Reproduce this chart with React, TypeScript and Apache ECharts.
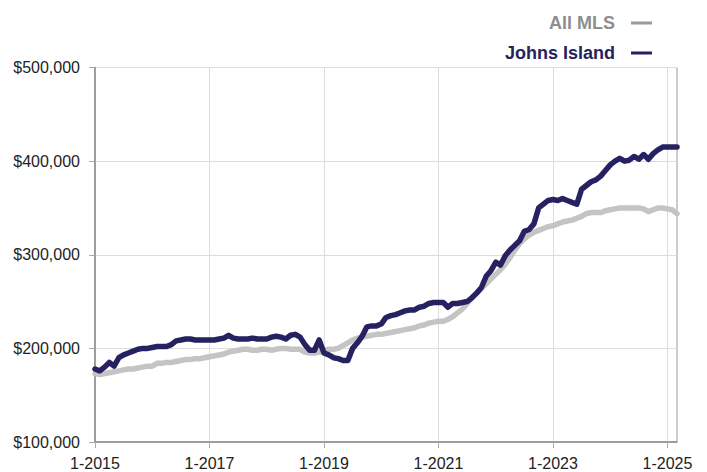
import React, { useEffect, useRef } from "react";
import * as echarts from "echarts";

const START_YEAR = 2015;
const MONTH_COUNT = 123;

const seriesNames = ["All MLS", "Johns Island"];

// Median price, thousands of dollars, monthly Jan 2015 - Mar 2025
const allMls = [
  173, 172, 173, 174, 175, 176, 177, 178, 178, 179, 180, 181,
  181, 184, 184, 185, 185, 186, 187, 188, 188, 189, 189, 190,
  191, 192, 193, 194, 196, 197, 198, 199, 199, 198, 198, 199,
  199, 198, 199, 200, 200, 199, 199, 199, 196, 195, 195, 196,
  198, 199, 199, 200, 203, 206, 209, 211, 212, 213, 214, 215,
  215, 216, 217, 218, 219, 220, 221, 222, 224, 225, 227, 228,
  229, 229, 231, 234, 238, 242, 248, 254, 259, 264, 269, 274,
  279, 284, 290, 297, 305, 312, 317, 321, 324, 326, 328, 330,
  331, 333, 335, 336, 337, 339, 341, 344, 345, 345, 345, 347,
  348, 349, 350, 350, 350, 350, 350, 349, 346, 348, 350, 350,
  349, 348, 344,
];

const johnsIsland = [
  178, 176, 180, 185, 181, 190, 193, 195, 197, 199, 200, 200,
  201, 202, 202, 202, 204, 208, 209, 210, 210, 209, 209, 209,
  209, 209, 210, 211, 214, 211, 210, 210, 210, 211, 210, 210,
  210, 212, 213, 212, 210, 214, 215, 212, 204, 198, 198, 209,
  195, 193, 190, 189, 187, 187, 200, 206, 213, 223, 224, 224,
  226, 233, 235, 236, 238, 240, 241, 241, 244, 245, 248, 249,
  249, 249, 244, 248, 248, 249, 250, 254, 259, 265, 277, 283,
  292, 289, 299, 305, 310, 315, 325, 327, 333, 350, 354, 358,
  359, 358, 360, 358, 356, 354, 370, 374, 378, 380, 384, 390,
  396, 400, 403, 400, 401, 405, 402, 407, 402, 408, 412, 415,
  415, 415, 415,
];

const yTicks = [100000, 200000, 300000, 400000, 500000];

const categories: string[] = [];
for (let i = 0; i < MONTH_COUNT; i++) {
  categories.push(`${(i % 12) + 1}-${START_YEAR + Math.floor(i / 12)}`);
}

const FONT = "'Liberation Sans', Arial, Helvetica, sans-serif";

export default function App() {
  const ref = useRef<HTMLDivElement>(null);
  useEffect(() => {
    if (!ref.current) return;
    const chart = echarts.init(ref.current, null, { renderer: "svg" });
    chart.setOption({
      animation: false,
      backgroundColor: "#ffffff",
      grid: {
        left: 95,
        right: 30,
        top: 67.5,
        bottom: 30,
        show: true,
        borderColor: "#9a9a9a",
        borderWidth: 1,
        containLabel: false,
        outerBoundsMode: "none",
      },
      legend: {
        orient: "vertical",
        right: 55,
        top: 14,
        padding: 0,
        align: "right",
        itemWidth: 21,
        itemHeight: 3,
        itemGap: 12,
        icon: "rect",
        selectedMode: false,
        data: [
          {
            name: seriesNames[0],
            itemStyle: { color: "#9a9a9a" },
            textStyle: { color: "#8e8e8e" },
          },
          {
            name: seriesNames[1],
            itemStyle: { color: "#25235e" },
            textStyle: { color: "#25235e" },
          },
        ],
        textStyle: {
          fontFamily: FONT,
          fontWeight: "bold",
          fontSize: 18,
          padding: [0, 11, 0, 0],
        },
      },
      xAxis: {
        type: "category",
        data: categories,
        boundaryGap: false,
        axisLine: { lineStyle: { color: "#8a8a8a", width: 1.5 } },
        axisTick: { show: true, interval: 23, length: 6, lineStyle: { color: "#aaaaaa" } },
        axisLabel: {
          interval: 23,
          margin: 13,
          fontFamily: FONT,
          fontSize: 16,
          color: "#222222",
        },
        splitLine: { show: true, interval: 23, lineStyle: { color: "#dddddd", width: 1 } },
      },
      yAxis: {
        type: "value",
        min: yTicks[0],
        max: yTicks[yTicks.length - 1],
        interval: yTicks[1] - yTicks[0],
        axisLine: { show: true, lineStyle: { color: "#8a8a8a", width: 1.5 } },
        axisTick: { show: true, length: 6, lineStyle: { color: "#aaaaaa" } },
        axisLabel: {
          margin: 15,
          fontFamily: FONT,
          fontSize: 16,
          color: "#222222",
          formatter: (v: number) => "$" + v.toLocaleString("en-US"),
        },
        splitLine: { show: true, lineStyle: { color: "#dddddd", width: 1 } },
      },
      series: [
        {
          name: seriesNames[0],
          type: "line",
          data: allMls.map((v) => v * 1000),
          showSymbol: false,
          symbol: "none",
          color: "#c4c4c4",
          lineStyle: { color: "#c4c4c4", width: 5.5, cap: "round", join: "round" },
        },
        {
          name: seriesNames[1],
          type: "line",
          data: johnsIsland.map((v) => v * 1000),
          showSymbol: false,
          symbol: "none",
          color: "#262262",
          lineStyle: { color: "#262262", width: 5.5, cap: "round", join: "round" },
        },
      ],
    });
    return () => chart.dispose();
  }, []);
  return (
    <div
      ref={ref}
      style={{ position: "fixed", left: 0, top: 0, width: 707, height: 472, background: "#fff" }}
    />
  );
}
